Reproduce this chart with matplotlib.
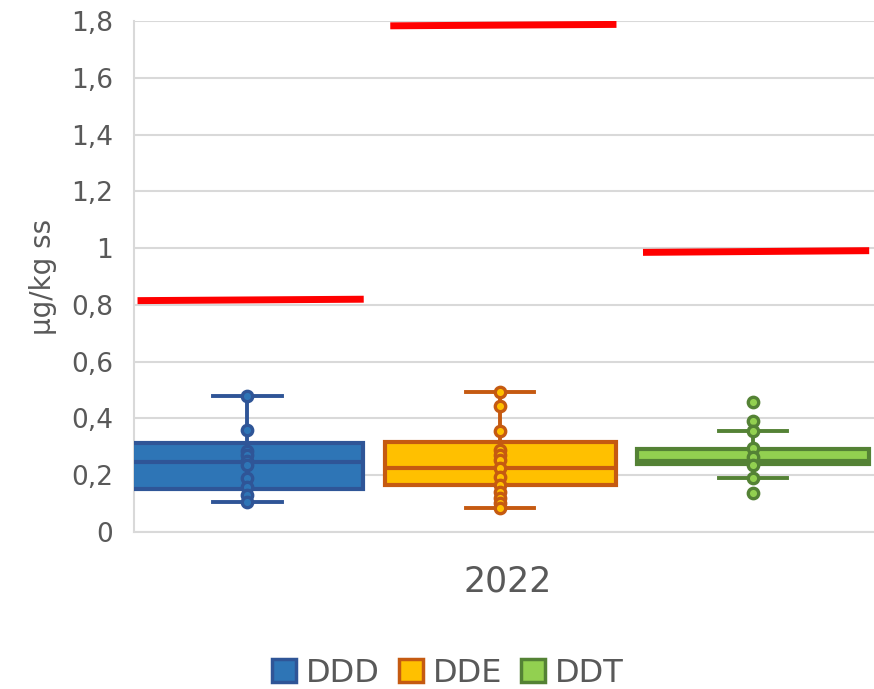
import matplotlib
matplotlib.use("Agg")
import matplotlib.pyplot as plt
from matplotlib.patches import Patch

# ---- data ----
series = ["DDD", "DDE", "DDT"]
category = "2022"
q1 = [0.151, 0.166, 0.238]
median = [0.247, 0.225, 0.250]
q3 = [0.313, 0.317, 0.293]
whisker_low = [0.106, 0.085, 0.189]
whisker_high = [0.479, 0.493, 0.357]
points_ddd = [0.479, 0.36, 0.285, 0.27, 0.25, 0.235, 0.19, 0.16, 0.13, 0.106]
points_dde = [0.493, 0.445, 0.356, 0.29, 0.27, 0.255, 0.225, 0.195, 0.166, 0.141, 0.12, 0.102, 0.085]
points_ddt = [0.457, 0.392, 0.357, 0.296, 0.265, 0.236, 0.19, 0.138]
limit_start = [0.815, 1.783, 0.985]
limit_end = [0.820, 1.788, 0.991]
yticks = [0, 0.2, 0.4, 0.6, 0.8, 1.0, 1.2, 1.4, 1.6, 1.8]
ytick_labels = ["0", "0,2", "0,4", "0,6", "0,8", "1", "1,2", "1,4", "1,6", "1,8"]

fills = ["#2E75B6", "#FFC000", "#92D050"]
edges = ["#2F5597", "#C55A11", "#548235"]
text_gray = "#595959"
grid_gray = "#D9D9D9"

fig = plt.figure(figsize=(8.74, 6.89), dpi=100)
ax = fig.add_axes([134/874, (689-532)/689, 1-134/874, (532-21)/689])

positions = [0, 1, 2]
all_points = [points_ddd, points_dde, points_ddt]
for i in range(3):
    stats = [dict(q1=q1[i], med=median[i], q3=q3[i], whislo=whisker_low[i],
                  whishi=whisker_high[i], fliers=[])]
    ax.bxp(stats, positions=[positions[i]], widths=0.915, patch_artist=True,
           showfliers=False, capwidths=0.27,
           boxprops=dict(facecolor=fills[i], edgecolor=edges[i], linewidth=3),
           medianprops=dict(color=edges[i], linewidth=3),
           whiskerprops=dict(color=edges[i], linewidth=2.8),
           capprops=dict(color=edges[i], linewidth=2.8), zorder=3)
    ax.plot([positions[i]] * len(all_points[i]), all_points[i], linestyle="none",
            marker="o", markersize=7.5, markerfacecolor=fills[i],
            markeredgecolor=edges[i], markeredgewidth=2.4, zorder=4)
    ax.plot([positions[i] - 0.435, positions[i] + 0.46], [limit_start[i], limit_end[i]],
            color="#FF0000", linewidth=5, solid_capstyle="butt", zorder=5)

ax.set_xlim(-0.449, 2.479)
ax.set_ylim(0, 1.8)
ax.set_yticks(yticks)
ax.set_yticklabels(ytick_labels, fontsize=19, color=text_gray)
ax.set_xticks([])
ax.yaxis.grid(True, color=grid_gray, linewidth=1.5)
ax.set_axisbelow(True)
ax.tick_params(axis="y", length=0, pad=15)
for s in ["top", "right"]:
    ax.spines[s].set_visible(False)
for s in ["left", "bottom"]:
    ax.spines[s].set_color(grid_gray)
    ax.spines[s].set_linewidth(1.5)

ax.set_ylabel("µg/kg ss", fontsize=20, color=text_gray, labelpad=10)
fig.text((134+874)/2/874 + 0.004, (689-582)/689, category, fontsize=25, color=text_gray,
         ha="center", va="center")

handles = [Patch(facecolor=fills[i], edgecolor=edges[i], linewidth=2.5, label=series[i])
           for i in range(3)]
fig.legend(handles=handles, loc="center", bbox_to_anchor=(448/874, (689-673)/689),
           ncol=3, frameon=False, fontsize=23, labelcolor=text_gray,
           handlelength=0.75, handleheight=0.75, handletextpad=0.3, columnspacing=0.6)

fig.savefig("out.png", dpi=100)
